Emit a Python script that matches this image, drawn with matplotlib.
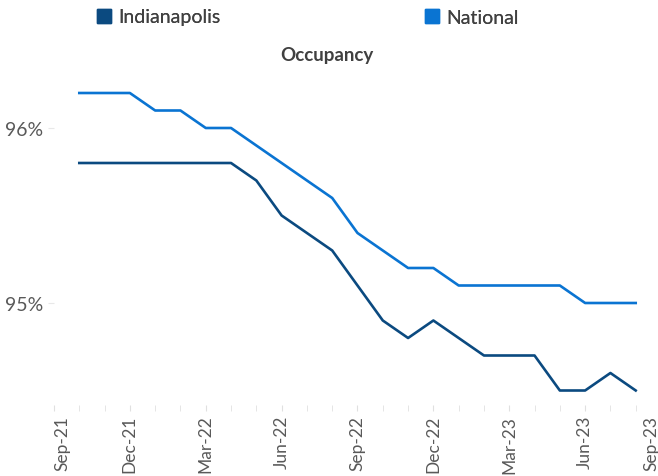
import numpy as np
import matplotlib.pyplot as plt
from matplotlib.transforms import ScaledTranslation

plt.rcParams['font.family'] = ['Lato', 'DejaVu Sans']

# months from Oct-21 to Aug-23
months = ['Oct-21', 'Nov-21', 'Dec-21', 'Jan-22', 'Feb-22', 'Mar-22', 'Apr-22',
          'May-22', 'Jun-22', 'Jul-22', 'Aug-22', 'Sep-22', 'Oct-22', 'Nov-22',
          'Dec-22', 'Jan-23', 'Feb-23', 'Mar-23', 'Apr-23', 'May-23', 'Jun-23',
          'Jul-23', 'Aug-23']
indianapolis = [95.8, 95.8, 95.8, 95.8, 95.8, 95.8, 95.8, 95.7, 95.5, 95.4, 95.3,
                95.1, 94.9, 94.8, 94.9, 94.8, 94.7, 94.7, 94.7, 94.5, 94.5, 94.6, 94.5]
national = [96.2, 96.2, 96.2, 96.1, 96.1, 96.0, 96.0, 95.9, 95.8, 95.7, 95.6,
            95.4, 95.3, 95.2, 95.2, 95.1, 95.1, 95.1, 95.1, 95.1, 95.0, 95.0, 95.0]
tick_labels = ['Sep-21', 'Dec-21', 'Mar-22', 'Jun-22', 'Sep-22', 'Dec-22',
               'Mar-23', 'Jun-23', 'Sep-23']

c_ind = '#0B4A80'
c_nat = '#0A74D2'
gray = '#595959'

fig = plt.figure(figsize=(6.58, 4.77), dpi=100)
W, H = 658, 477
x0, x1 = 54, 661
ytop, ybot = 45, 406
ax = fig.add_axes([x0 / W, 1 - ybot / H, (x1 - x0) / W, (ybot - ytop) / H])

x = np.arange(1, len(months) + 1)
ax.plot(x, indianapolis, color=c_ind, lw=1.9)
ax.plot(x, national, color=c_nat, lw=1.9)

ax.set_xlim(0, 24)
ax.set_ylim(96 - (ybot - 129) / 175, 96 + (129 - ytop) / 175)

ax.set_xticks(np.arange(0, 25, 3))
ax.set_xticklabels(tick_labels, rotation=90, color=gray, fontsize=12.5)
ax.set_xticks(np.arange(0, 25), minor=True)
ax.tick_params(axis='x', which='both', length=4, color='#E0E0E0', pad=3)
# first and last labels sit nudged inward, as in the original
lbls = ax.get_xticklabels()
lbls[0].set_transform(lbls[0].get_transform() + ScaledTranslation(0.08, 0, fig.dpi_scale_trans))
lbls[-1].set_transform(lbls[-1].get_transform() + ScaledTranslation(-0.1, 0, fig.dpi_scale_trans))

ax.set_yticks([95, 96])
ax.set_yticklabels(['95%', '96%'], color=gray, fontsize=14)
ax.tick_params(axis='y', length=4, color='#E8E8E8', pad=4)

for s in ax.spines.values():
    s.set_visible(False)

fig.text(327 / W, 1 - 55 / H, 'Occupancy', ha='center', va='center',
         fontsize=13.5, fontweight='bold', color='#404040')

for lab, col, xl in [('Indianapolis', c_ind, 79), ('National', c_nat, 407)]:
    lg = fig.legend(handles=[plt.Rectangle((0, 0), 1, 1, color=col)], labels=[lab],
                    loc='center left', bbox_to_anchor=(xl / W, 1 - 18 / H),
                    frameon=False, fontsize=14, handlelength=0.75, handleheight=0.75,
                    handletextpad=0.35, labelcolor='#404040')
    fig.add_artist(lg)

fig.savefig('out.png', dpi=100)
